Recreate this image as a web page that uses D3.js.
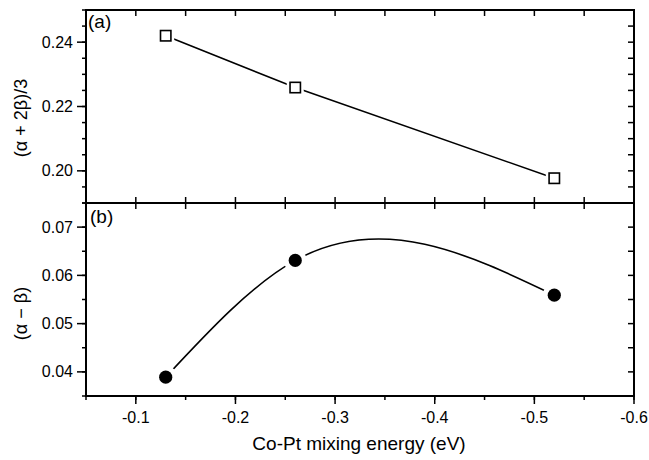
<!DOCTYPE html>
<meta charset="utf-8">
<html>
<head>
    <script src="https://cdn.jsdelivr.net/npm/d3@7"></script>
    <style>
        body { margin: 0; background: #fff; }
        text { font-family: "Liberation Sans", Arial, sans-serif; fill: #000; }
    </style>
</head>
<body>
    <div id="chart"></div>
    <script>
        // data
        var energy = [-0.13, -0.26, -0.52];
        var avgVals = [0.242, 0.2259, 0.1977];     // (a+2b)/3
        var diffVals = [0.0389, 0.0631, 0.0559];   // (a-b)
        var xTicks = [-0.1, -0.2, -0.3, -0.4, -0.5, -0.6];
        var topTicks = [0.20, 0.22, 0.24];
        var botTicks = [0.04, 0.05, 0.06, 0.07];

        var width = 649, height = 460;
        var plotL = 86, plotR = 634;
        var plotT = 10, plotM = 203, plotB = 396;

        var svg = d3.select("#chart").append("svg")
            .attr("width", width)
            .attr("height", height);

        var x = d3.scaleLinear().domain([-0.05, -0.6]).range([plotL, plotR]);
        var yTop = d3.scaleLinear().domain([0.19, 0.25]).range([plotM, plotT]);
        var yBot = d3.scaleLinear().domain([0.035, 0.075]).range([plotB, plotM]);

        var fmt2 = d3.format(".2f");
        var minorX = d3.range(-0.05, -0.6001, -0.05);

        // natural cubic spline with y as a function of x (like Origin's spline connect)
        function curveSplineX(context) {
            return {
                areaStart: function () {},
                areaEnd: function () {},
                lineStart: function () { this._x = []; this._y = []; },
                point: function (px, py) { this._x.push(+px); this._y.push(+py); },
                lineEnd: function () {
                    var xs = this._x, ys = this._y, n = xs.length;
                    if (!n) return;
                    context.moveTo(xs[0], ys[0]);
                    if (n < 3) { if (n === 2) context.lineTo(xs[1], ys[1]); return; }
                    var h = [], i;
                    for (i = 0; i < n - 1; i++) h.push(xs[i + 1] - xs[i]);
                    // tridiagonal solve for second derivatives, natural ends
                    var a = [], b = [], c = [], r = [], M = new Array(n).fill(0);
                    for (i = 1; i < n - 1; i++) {
                        a.push(h[i - 1]); b.push(2 * (h[i - 1] + h[i])); c.push(h[i]);
                        r.push(6 * ((ys[i + 1] - ys[i]) / h[i] - (ys[i] - ys[i - 1]) / h[i - 1]));
                    }
                    var m = b.length;
                    for (i = 1; i < m; i++) {
                        var w = a[i] / b[i - 1];
                        b[i] -= w * c[i - 1];
                        r[i] -= w * r[i - 1];
                    }
                    var sol = new Array(m);
                    sol[m - 1] = r[m - 1] / b[m - 1];
                    for (i = m - 2; i >= 0; i--) sol[i] = (r[i] - c[i] * sol[i + 1]) / b[i];
                    for (i = 0; i < m; i++) M[i + 1] = sol[i];
                    for (i = 0; i < n - 1; i++) {
                        var hi = h[i], s = (ys[i + 1] - ys[i]) / hi;
                        var d0 = s - hi * (2 * M[i] + M[i + 1]) / 6;
                        var d1 = s + hi * (M[i] + 2 * M[i + 1]) / 6;
                        context.bezierCurveTo(
                            xs[i] + hi / 3, ys[i] + hi * d0 / 3,
                            xs[i + 1] - hi / 3, ys[i + 1] - hi * d1 / 3,
                            xs[i + 1], ys[i + 1]);
                    }
                }
            };
        }

        function drawPanel(y, yMajor, yMinorStep, isBottom) {
            var g = svg.append("g");
            var d0 = y.domain();
            var yMinor = d3.range(d0[0], d0[1] + 1e-9, yMinorStep);
            var y0 = y.range()[0], y1 = y.range()[1];

            // left axis, ticks outward
            g.selectAll(".lmin").data(yMinor).enter().append("line")
                .attr("x1", plotL - 4).attr("x2", plotL)
                .attr("y1", d => y(d)).attr("y2", d => y(d))
                .attr("stroke", "#000").attr("stroke-width", 1.5);
            g.selectAll(".lmaj").data(yMajor).enter().append("line")
                .attr("x1", plotL - 9).attr("x2", plotL)
                .attr("y1", d => y(d)).attr("y2", d => y(d))
                .attr("stroke", "#000").attr("stroke-width", 1.5);
            g.selectAll(".lab").data(yMajor).enter().append("text")
                .attr("x", plotL - 13).attr("y", d => y(d) + 5.5)
                .attr("text-anchor", "end")
                .style("font-size", "16px")
                .text(d => fmt2(d));

            // right axis, ticks inward
            g.selectAll(".rt").data(yMinor).enter().append("line")
                .attr("x1", plotR - 6).attr("x2", plotR)
                .attr("y1", d => y(d)).attr("y2", d => y(d))
                .attr("stroke", "#000").attr("stroke-width", 1.5);

            // top edge ticks inward (down)
            g.selectAll(".tt").data(minorX).enter().append("line")
                .attr("x1", d => x(d)).attr("x2", d => x(d))
                .attr("y1", y1).attr("y2", y1 + 6)
                .attr("stroke", "#000").attr("stroke-width", 1.5);

            if (!isBottom) {
                // bottom edge of top panel, ticks inward (up)
                g.selectAll(".bt").data(minorX).enter().append("line")
                    .attr("x1", d => x(d)).attr("x2", d => x(d))
                    .attr("y1", y0).attr("y2", y0 - 6)
                    .attr("stroke", "#000").attr("stroke-width", 1.5);
            } else {
                g.selectAll(".bt").data(minorX).enter().append("line")
                    .attr("x1", d => x(d)).attr("x2", d => x(d))
                    .attr("y1", y0).attr("y2", y0 + 4)
                    .attr("stroke", "#000").attr("stroke-width", 1.5);
                g.selectAll(".btm").data(xTicks).enter().append("line")
                    .attr("x1", d => x(d)).attr("x2", d => x(d))
                    .attr("y1", y0).attr("y2", y0 + 8)
                    .attr("stroke", "#000").attr("stroke-width", 1.5);
                g.selectAll(".xl").data(xTicks).enter().append("text")
                    .attr("x", d => x(d)).attr("y", y0 + 27)
                    .attr("text-anchor", "middle")
                    .style("font-size", "16px")
                    .text(d => d.toFixed(1));
            }

            // frame
            g.append("rect")
                .attr("x", plotL).attr("y", y1)
                .attr("width", plotR - plotL).attr("height", y0 - y1)
                .attr("fill", "none").attr("stroke", "#000").attr("stroke-width", 2);
            return g;
        }

        drawPanel(yTop, topTicks, 0.005, false);
        drawPanel(yBot, botTicks, 0.005, true);

        // (a) line and open squares
        var topPts = energy.map((e, i) => [e, avgVals[i]]);
        svg.append("path")
            .datum(topPts)
            .attr("d", d3.line().x(d => x(d[0])).y(d => yTop(d[1])))
            .attr("fill", "none").attr("stroke", "#000").attr("stroke-width", 1.6);
        svg.selectAll(".sqhalo").data(topPts).enter().append("rect")
            .attr("x", d => x(d[0]) - 8.5).attr("y", d => yTop(d[1]) - 8.5)
            .attr("width", 17).attr("height", 17)
            .attr("fill", "#fff");
        svg.selectAll(".sq").data(topPts).enter().append("rect")
            .attr("x", d => x(d[0]) - 5.2).attr("y", d => yTop(d[1]) - 5.2)
            .attr("width", 10.4).attr("height", 10.4)
            .attr("fill", "#fff").attr("stroke", "#000").attr("stroke-width", 1.6);

        // (b) smooth curve and filled circles
        var botPts = energy.map((e, i) => [e, diffVals[i]]);
        svg.append("path")
            .datum(botPts)
            .attr("d", d3.line().curve(curveSplineX).x(d => x(d[0])).y(d => yBot(d[1])))
            .attr("fill", "none").attr("stroke", "#000").attr("stroke-width", 1.6);
        svg.selectAll(".halo").data(botPts).enter().append("circle")
            .attr("cx", d => x(d[0])).attr("cy", d => yBot(d[1]))
            .attr("r", 11.5).attr("fill", "#fff");
        svg.selectAll(".dot").data(botPts).enter().append("circle")
            .attr("cx", d => x(d[0])).attr("cy", d => yBot(d[1]))
            .attr("r", 6.6).attr("fill", "#000");

        // panel labels
        svg.append("text").attr("x", 88).attr("y", 28)
            .style("font-size", "19px").text("(a)");
        svg.append("text").attr("x", 90).attr("y", 223)
            .style("font-size", "19px").text("(b)");

        // axis titles
        svg.append("text")
            .attr("transform", "translate(27,118) rotate(-90)")
            .attr("text-anchor", "middle")
            .style("font-size", "18px")
            .text("(\u03B1 + 2\u03B2)/3");
        svg.append("text")
            .attr("transform", "translate(27," + ((plotM + plotB) / 2 + 14) + ") rotate(-90)")
            .attr("text-anchor", "middle")
            .style("font-size", "18px")
            .text("(\u03B1 \u2212 \u03B2)");
        svg.append("text")
            .attr("x", 359).attr("y", 450)
            .attr("text-anchor", "middle")
            .style("font-size", "19px")
            .text("Co-Pt mixing energy (eV)");
    </script>
</body>
</html>
